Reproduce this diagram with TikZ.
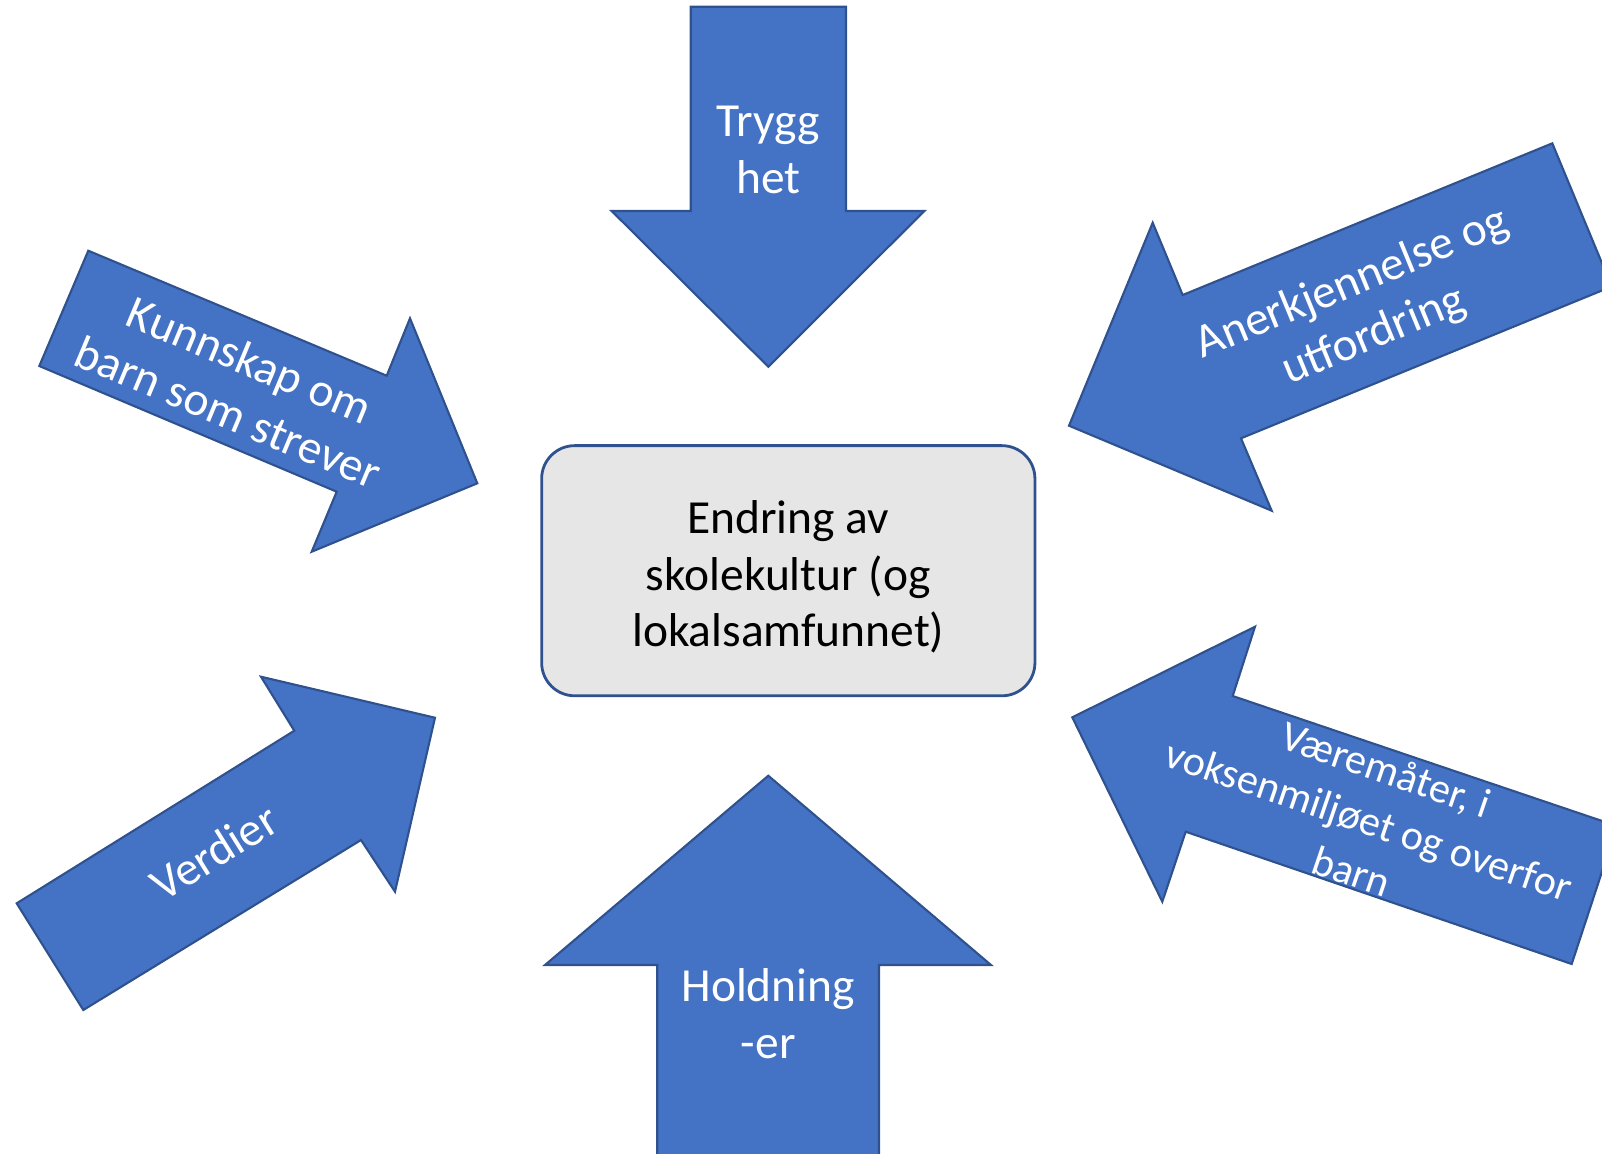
\documentclass[tikz,border=0pt]{standalone}
\usepackage{fontspec}
\setmainfont{Carlito}
\usepackage{tikz}

\definecolor{pilblaa}{HTML}{4472C4}
\definecolor{kantblaa}{HTML}{2F528F}
\definecolor{boksgraa}{HTML}{E7E6E6}

\tikzset{
  pil/.style={fill=pilblaa, draw=kantblaa, line width=0.6pt, line join=miter},
  piltekst/.style={text=white, align=center, inner sep=0pt, font=\fontsize{13.5}{16.1}\selectfont},
  boks/.style={fill=boksgraa, draw=kantblaa, line width=0.8pt, rounded corners=0.33cm,
    minimum width=4.93cm, minimum height=2.5cm},
  bokstekst/.style={align=center, inner sep=0pt, font=\fontsize{13.5}{16.1}\selectfont}
}

\begin{document}
\begin{tikzpicture}[x=0.01cm, y=-0.01cm]
    \clip (0,0) rectangle (1602,1153);

    % midten
    \node[boks] (endring) at (788.3,570.7) {};
      \node[bokstekst] (endringtekst) at (788.3,577) {Endring av\\skolekultur (og\\lokalsamfunnet)};

    % ovenfra og nedenfra
    \filldraw[pil] (690.7,6.7) -- (846,6.7) -- (846,211) -- (924.3,211) -- (768.3,366.7) -- (611.7,211) -- (690.7,211) -- cycle;
      \node[piltekst] (trygghet) at (768.3,150) {Trygg\\het};
    \filldraw[pil] (657.3,1165) -- (657.3,965) -- (545,965) -- (768.3,775.7) -- (991,965) -- (879,965) -- (879,1165) -- cycle;
      \node[piltekst] (holdninger) at (768.3,1013.5) {Holdning\\-er};

    % venstre side
    \filldraw[pil] (88.3,250.7) -- (386.7,375.7) -- (410,318.3) -- (477.3,483.3) -- (311.7,551.7) -- (336.7,491.7) -- (39.3,366) -- cycle;
      \node[piltekst, rotate=-22.7] (kunnskap) at (239,386) {Kunnskap om\\barn som strever};
    \filldraw[pil] (16.7,903.3) -- (294.3,730.7) -- (261,676.7) -- (435,717.7) -- (395,891.7) -- (361,840) -- (83.3,1010) -- cycle;
      \node[piltekst, rotate=32] (verdier) at (214,852) {Verdier};

    % hoyre side
    \filldraw[pil] (1552.3,143.3) -- (1611.7,286.5) -- (1241,438.3) -- (1271.7,510.7) -- (1069,425.7) -- (1152.7,222.7) -- (1182.7,295) -- cycle;
      \node[piltekst, rotate=22.4] (anerkjennelse) at (1363,310) {Anerkjennelse og\\utfordring};
    \filldraw[pil] (1617,826) -- (1571.7,964) -- (1185.7,831.7) -- (1162.3,901.7) -- (1072.3,717.3) -- (1255,626.7) -- (1232.7,696) -- cycle;
      \node[piltekst, rotate=-18.8, font=\fontsize{12}{15.3}\selectfont] (vaeremater) at (1369,820) {Væremåter, i\\voksenmiljøet og overfor\\barn};

\end{tikzpicture}
\end{document}
